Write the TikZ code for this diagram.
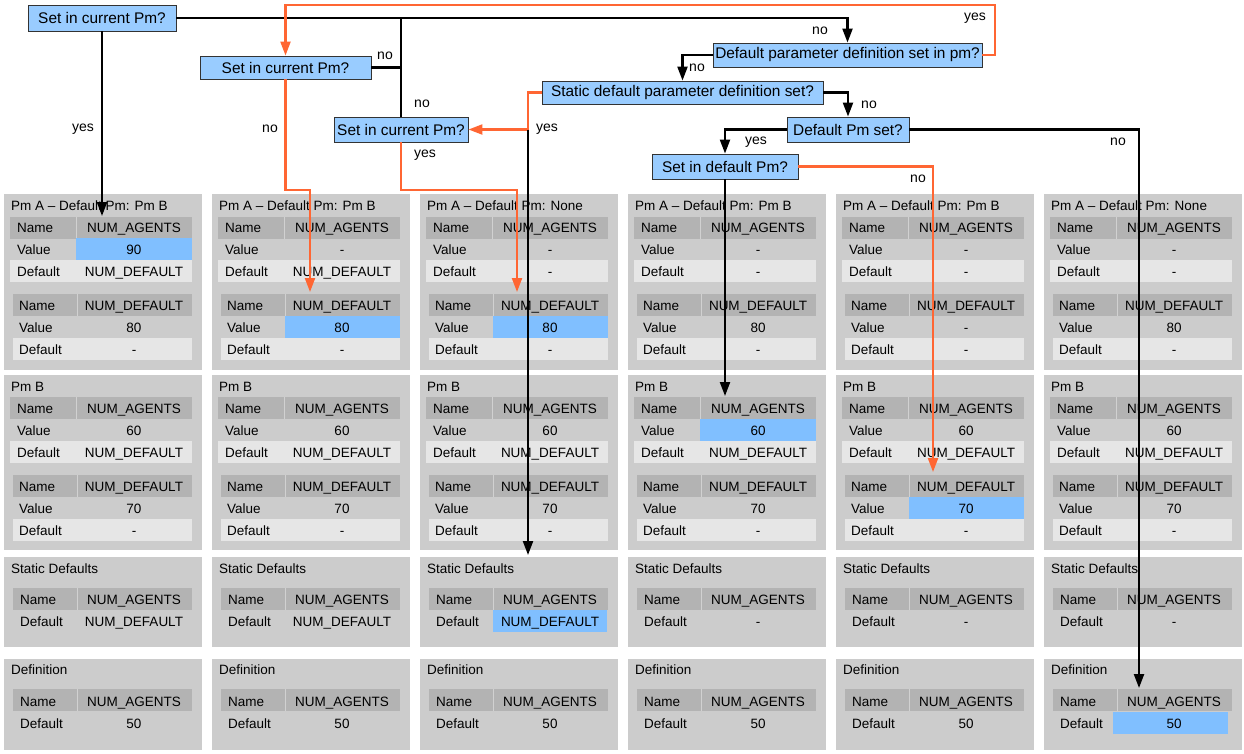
\documentclass[tikz,border=0pt]{standalone}
\usepackage{fontspec}
\setmainfont{Liberation Sans}
\usetikzlibrary{arrows.meta}

\definecolor{panelgray}{RGB}{204,204,204}
\definecolor{headgray}{RGB}{179,179,179}
\definecolor{rowgray}{RGB}{230,230,230}
\definecolor{hitblue}{RGB}{128,191,255}
\definecolor{askblue}{RGB}{153,204,255}
\definecolor{flow}{RGB}{255,102,51}

\tikzset{
  ask/.style={draw=black!80, fill=askblue, line width=0.9pt, inner sep=0pt,
    font=\fontsize{15.4}{18}\selectfont},
  lab/.style={inner sep=0pt, font=\fontsize{14}{16}\selectfont},
  cellname/.style={anchor=base west, inner sep=0pt},
  cellval/.style={anchor=base, inner sep=0pt},
  yesno/.style={line width=2.2pt, black},
  hot/.style={line width=2.2pt, flow},
  arrowed/.style={-{Triangle[length=14pt,width=10pt]}},
}

\begin{document}
\begin{tikzpicture}[x=1pt, y=-1pt, font=\fontsize{13.5}{16}\selectfont]
\useasboundingbox (0,0) rectangle (1244,753);

% panels
\foreach \c in {0,...,5} {
\begin{scope}[xshift=\c*208pt]
\fill[panelgray] (4,194) rectangle (202,370);
\fill[panelgray] (4,375) rectangle (202,550);
\fill[panelgray] (4,557) rectangle (202,647);
\fill[panelgray] (4,659) rectangle (202,750);
\foreach \l/\t/\d in {10/217/76, 13/294/77, 10/397/76, 13/475/77, 13/588/77, 13/689/77} {
  \fill[headgray] (\l,\t) rectangle (192,\t+22);
  \draw[panelgray!90!white] (\d,\t) -- (\d,\t+22);
}
\foreach \l/\t in {10/260, 13/338, 10/441, 13/519}
  \fill[rowgray] (\l,\t) rectangle (192,\t+22);
\end{scope}
}

% chosen values
\fill[hitblue] (76,238) rectangle (192,260);
\fill[hitblue] (285,316) rectangle (400,338);
\fill[hitblue] (493,316) rectangle (608,338);
\fill[hitblue] (700,419) rectangle (816,441);
\fill[hitblue] (909,497) rectangle (1024,519);
\fill[hitblue] (493,610) rectangle (607,632);
\fill[hitblue] (1113,712) rectangle (1228,734);

% panel texts
\foreach \c/\pmx/\va/\da/\vb/\sd in {0/Pm B/90/NUM\_DEFAULT/80/NUM\_DEFAULT,
    1/Pm B/-/NUM\_DEFAULT/80/NUM\_DEFAULT, 2/None/-/-/80/NUM\_DEFAULT,
    3/Pm B/-/-/80/-, 4/Pm B/-/-/-/-, 5/None/-/-/80/-} {
\begin{scope}[xshift=\c*208pt]
\node[cellname] (pa\c) at (11,210) {Pm A – Default Pm: \pmx};
\node[cellname] (pb\c) at (11,391) {Pm B};
\node[cellname] (sd\c) at (11,573) {Static Defaults};
\node[cellname] (df\c) at (11,674) {Definition};
\foreach \x/\y/\t in {17/232/Name, 17/254/Value, 17/276/Default,
    19/310/Name, 19/332/Value, 19/354/Default,
    17/413/Name, 17/435/Value, 17/457/Default,
    19/491/Name, 19/513/Value, 19/535/Default,
    20/604/Name, 20/626/Default, 20/706/Name, 20/728/Default}
  \node[cellname] (n\c-\y) at (\x,\y) {\t};
\foreach \y/\t in {232/NUM\_AGENTS, 254/\va, 276/\da,
    310/NUM\_DEFAULT, 332/\vb, 354/-,
    413/NUM\_AGENTS, 435/60, 457/NUM\_DEFAULT,
    491/NUM\_DEFAULT, 513/70, 535/-,
    604/NUM\_AGENTS, 626/\sd, 706/NUM\_AGENTS, 728/50}
  \node[cellval] (v\c-\y) at (134,\y) {\t};
\end{scope}
}

% questions
\node[ask, minimum width=148pt, minimum height=26pt] (q1) at (102,18) {Set in current Pm?};
\node[ask, minimum width=171pt, minimum height=23pt] (q2) at (285.5,67.5) {Set in current Pm?};
\node[ask, minimum width=134pt, minimum height=25pt] (q3) at (401,129.5) {Set in current Pm?};
\node[ask, minimum width=269pt, minimum height=24pt] (q4) at (847.5,55) {Default parameter definition set in pm?};
\node[ask, minimum width=281pt, minimum height=23pt] (q5) at (682.5,92.5) {Static default parameter definition set?};
\node[ask, minimum width=122pt, minimum height=25pt] (q6) at (848,129.5) {Default Pm set?};
\node[ask, minimum width=146pt, minimum height=25pt] (q7) at (725,166.5) {Set in default Pm?};

\coordinate (t1) at (102,216);
\coordinate (k2) at (310,190);
\coordinate (t2) at (310,292);
\coordinate (k3) at (517,190);
\coordinate (t3) at (517,292);
\coordinate (j5) at (528,129.5);
\coordinate (t5) at (528,555);
\coordinate (t6) at (1139,688);
\coordinate (t7) at (933,472);
\coordinate (t8) at (725,396);
\coordinate (u4) at (995,5);

% connectors
\draw[yesno, arrowed] (q1) -- (t1);
\draw[yesno, arrowed] (q1.east) -| (q4.north);
\draw[yesno] (q2.east) -- (q2.east -| q3.north);
\draw[yesno] (q3.north) -- (q3.north |- q1.east);
\draw[hot, arrowed] (q4.east) -| (u4) -| (q2.north);
\draw[hot, arrowed] (q2.south) |- (k2) -- (t2);
\draw[hot, arrowed] (q3.south) |- (k3) -- (t3);
\draw[hot, arrowed] (q5.west) -| (j5) -- (q3.east);
\draw[yesno, arrowed] (j5) -- (t5);
\draw[yesno, arrowed] (q4.west) -| (q5.north);
\draw[yesno, arrowed] (q5.east) -| (q6.north);
\draw[yesno, arrowed] (q6.west) -| (q7.north);
\draw[yesno, arrowed] (q6.east) -| (t6);
\draw[hot, arrowed] (q7.east) -| (t7);
\draw[yesno, arrowed] (q7.south) -- (t8);

% labels
\node[lab] (l1) at (83,129) {yes};
\node[lab] (l2) at (270,129) {no};
\node[lab] (l3) at (385,56) {no};
\node[lab] (l4) at (422,104) {no};
\node[lab] (l5) at (425,155) {yes};
\node[lab] (l6) at (547,129) {yes};
\node[lab] (l7) at (697,68) {no};
\node[lab] (l8) at (820,31) {no};
\node[lab] (l9) at (975,18) {yes};
\node[lab] (l10) at (869,105) {no};
\node[lab] (l11) at (756,142) {yes};
\node[lab] (l12) at (1118,142) {no};
\node[lab] (l13) at (918,179) {no};
\end{tikzpicture}
\end{document}
